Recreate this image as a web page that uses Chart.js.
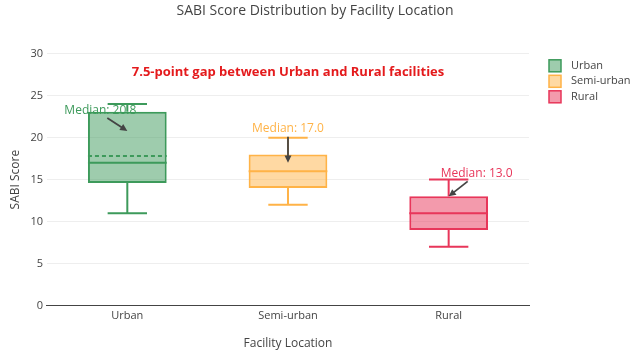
<!DOCTYPE html>
<html>
<head>
<meta charset="utf-8">
<script src="https://cdn.jsdelivr.net/npm/chart.js@4.4.0/dist/chart.umd.min.js"></script>
<style>
  html, body { margin: 0; padding: 0; background: #fff; }
  #wrap { width: 630px; height: 357px; }
</style>
</head>
<body>
<div id="wrap"><canvas id="myChart"></canvas></div>
<script>
const categories = ['Urban', 'Semi-urban', 'Rural'];

// box plot stats
const mins    = [11, 12, 7];
const q1s     = [14.6, 14, 9];
const medians = [17, 16, 11];
const q3s     = [23.1, 18, 13];
const maxs    = [24, 20, 15];
const means   = [17.8, null, null];

// "Median: x" callouts
const callout_values = [20.8, 17.0, 13.0];
const callout_texts  = ['Median: 20.8', 'Median: 17.0', 'Median: 13.0'];

const gap_note = '7.5-point gap between Urban and Rural facilities';
const gap_note_value = 27.8;

const y_ticks = [0, 5, 10, 15, 20, 25, 30];

const line_colors = ['#3d9a5b', '#ffb347', '#e8365a'];
const fill_colors = ['rgba(61,154,91,0.5)', 'rgba(255,179,71,0.5)', 'rgba(232,54,90,0.5)'];

const font_family = '"Open Sans", "Noto Sans", sans-serif';

// pixel offsets for the callouts (text centre, arrow tail) relative to the pointed value
const callout_offsets = [
    { tx: -27, ty: -20, ax: -20, ay: -13 },
    { tx:   0, ty: -34, ax:   0, ay: -26 },
    { tx:  28, ty: -23, ax:  19, ay: -15 }
];

const datasets = categories.map((cat, i) => ({
    label: cat,
    data: categories.map((_, j) => j === i ? [q1s[i], q3s[i]] : null),
    backgroundColor: fill_colors[i],
    borderColor: line_colors[i],
    borderWidth: 2,
    borderSkipped: false,
    grouped: false,
    barPercentage: 0.49,
    categoryPercentage: 1
}));

function draw_arrow(ctx, x1, y1, x2, y2) {
    const angle = Math.atan2(y2 - y1, x2 - x1);
    const head = 8;
    ctx.beginPath();
    ctx.moveTo(x1, y1);
    ctx.lineTo(x2 - Math.cos(angle) * head * 0.8, y2 - Math.sin(angle) * head * 0.8);
    ctx.stroke();
    ctx.beginPath();
    ctx.moveTo(x2, y2);
    ctx.lineTo(x2 - head * Math.cos(angle - 0.45), y2 - head * Math.sin(angle - 0.45));
    ctx.lineTo(x2 - head * Math.cos(angle + 0.45), y2 - head * Math.sin(angle + 0.45));
    ctx.closePath();
    ctx.fill();
}

const box_extras = {
    id: 'box_extras',
    afterDatasetsDraw(chart) {
        const ctx = chart.ctx;
        const y = chart.scales.y;
        ctx.save();
        categories.forEach((cat, i) => {
            const bar = chart.getDatasetMeta(i).data[i];
            const cx = bar.x;
            const half = bar.width / 2;
            const cap = half / 2;
            ctx.strokeStyle = line_colors[i];
            ctx.lineWidth = 2;
            ctx.setLineDash([]);
            ctx.beginPath();
            // whiskers
            ctx.moveTo(cx, y.getPixelForValue(q3s[i]));
            ctx.lineTo(cx, y.getPixelForValue(maxs[i]));
            ctx.moveTo(cx - cap, y.getPixelForValue(maxs[i]));
            ctx.lineTo(cx + cap, y.getPixelForValue(maxs[i]));
            ctx.moveTo(cx, y.getPixelForValue(q1s[i]));
            ctx.lineTo(cx, y.getPixelForValue(mins[i]));
            ctx.moveTo(cx - cap, y.getPixelForValue(mins[i]));
            ctx.lineTo(cx + cap, y.getPixelForValue(mins[i]));
            // median
            ctx.moveTo(cx - half, y.getPixelForValue(medians[i]));
            ctx.lineTo(cx + half, y.getPixelForValue(medians[i]));
            ctx.stroke();
            if (means[i] !== null) {
                ctx.setLineDash([4, 3]);
                ctx.beginPath();
                ctx.moveTo(cx - half, y.getPixelForValue(means[i]));
                ctx.lineTo(cx + half, y.getPixelForValue(means[i]));
                ctx.stroke();
                ctx.setLineDash([]);
            }
        });
        ctx.restore();
    },
    afterDraw(chart) {
        const ctx = chart.ctx;
        const x = chart.scales.x;
        const y = chart.scales.y;
        const area = chart.chartArea;
        ctx.save();

        // median callouts
        categories.forEach((cat, i) => {
            const px = x.getPixelForValue(i);
            const py = y.getPixelForValue(callout_values[i]);
            const o = callout_offsets[i];
            ctx.strokeStyle = '#444';
            ctx.fillStyle = '#444';
            ctx.lineWidth = 1.8;
            draw_arrow(ctx, px + o.ax, py + o.ay, px, py);
            ctx.fillStyle = line_colors[i];
            ctx.font = '12px ' + font_family;
            ctx.textAlign = 'center';
            ctx.textBaseline = 'middle';
            ctx.fillText(callout_texts[i], px + o.tx, py + o.ty);
        });

        // gap note
        ctx.fillStyle = '#e41a1c';
        ctx.font = 'bold 13px ' + font_family;
        ctx.textAlign = 'center';
        ctx.textBaseline = 'middle';
        ctx.fillText(gap_note, x.getPixelForValue(1), y.getPixelForValue(gap_note_value));

        // legend
        const lx = area.right + 20;
        let ly = area.top + 6;
        categories.forEach((cat, i) => {
            ctx.fillStyle = fill_colors[i];
            ctx.fillRect(lx, ly, 12, 12);
            ctx.strokeStyle = line_colors[i];
            ctx.lineWidth = 1.5;
            ctx.strokeRect(lx, ly, 12, 12);
            ctx.fillStyle = '#444';
            ctx.font = '11px ' + font_family;
            ctx.textAlign = 'left';
            ctx.textBaseline = 'middle';
            ctx.fillText(cat, lx + 22, ly + 6);
            ly += 15.5;
        });
        ctx.restore();
    }
};

const config = {
    type: 'bar',
    data: {
        labels: categories,
        datasets: datasets
    },
    options: {
        responsive: true,
        maintainAspectRatio: false,
        animation: { duration: 0 },
        layout: {
            padding: { left: 0, right: 0, top: 0, bottom: 6 }
        },
        scales: {
            x: {
                grid: { display: false, drawTicks: false, tickLength: 0 },
                border: { display: true, color: '#444', width: 1 },
                ticks: {
                    color: '#444',
                    padding: 4,
                    font: { family: font_family, size: 11 }
                },
                title: {
                    display: true,
                    text: 'Facility Location',
                    color: '#444',
                    font: { family: font_family, size: 12 },
                    padding: { top: 10, bottom: 0 }
                }
            },
            y: {
                min: 0,
                max: 30,
                afterBuildTicks(axis) {
                    axis.ticks = y_ticks.map(v => ({ value: v }));
                },
                grid: { color: '#eee', drawTicks: false },
                border: { display: false },
                ticks: {
                    color: '#444',
                    padding: 4,
                    font: { family: font_family, size: 11 }
                },
                title: {
                    display: true,
                    text: 'SABI Score',
                    color: '#444',
                    font: { family: font_family, size: 12 },
                    padding: { top: 8, bottom: 4 }
                }
            },
            // empty right axis that keeps room for the legend
            legend_room: {
                type: 'linear',
                position: 'right',
                grid: { display: false, drawTicks: false },
                border: { display: false },
                ticks: { display: false },
                afterFit(axis) {
                    axis.width = 101;
                }
            }
        },
        plugins: {
            legend: { display: false },
            tooltip: { enabled: false },
            title: {
                display: true,
                text: 'SABI Score Distribution by Facility Location',
                color: '#444',
                font: { family: font_family, size: 14, weight: 'normal' },
                padding: { top: 3, bottom: 34 }
            }
        }
    },
    plugins: [box_extras]
};

const chart = new Chart(document.getElementById('myChart'), config);
</script>
</body>
</html>
